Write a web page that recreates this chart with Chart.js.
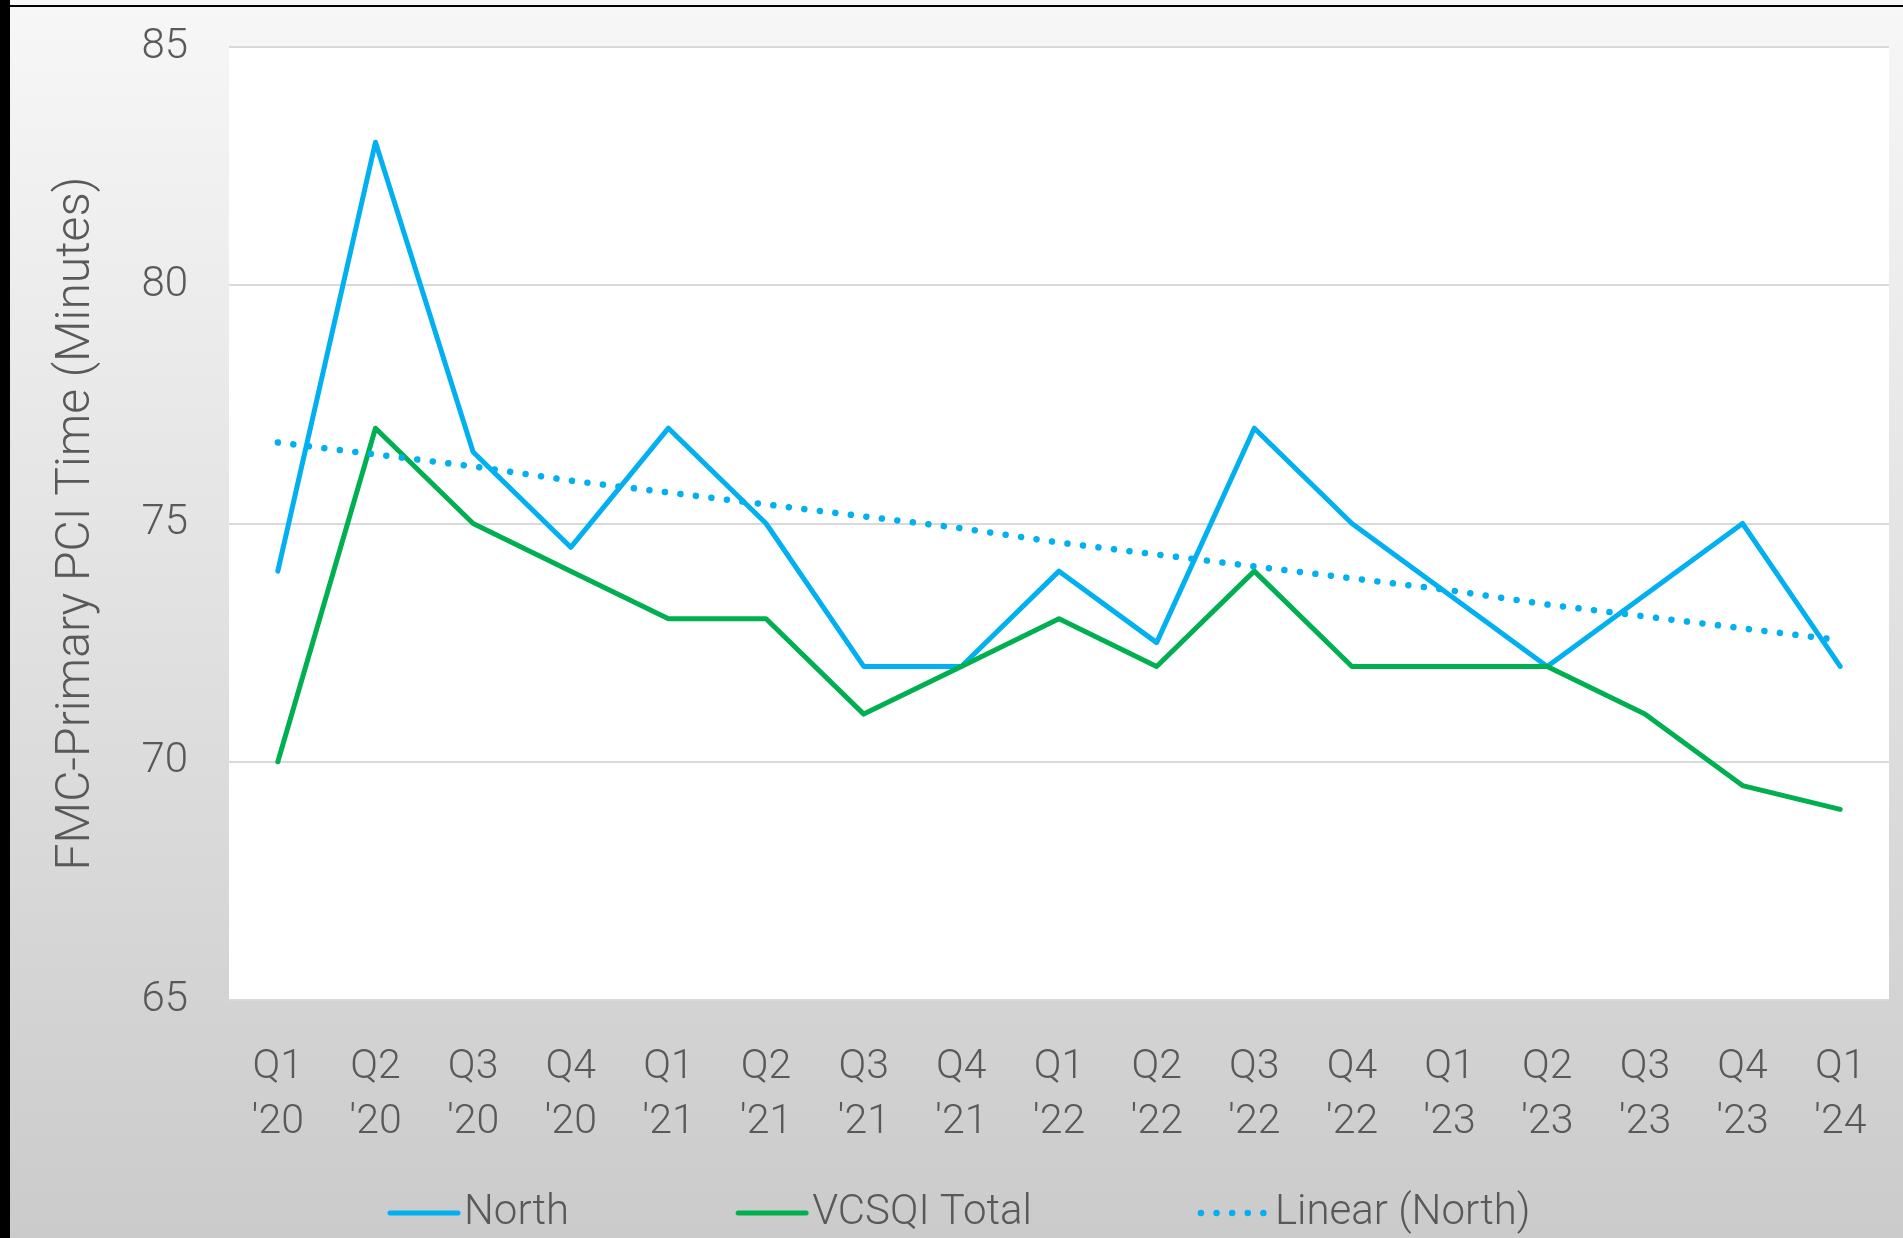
<!DOCTYPE html>
<html>
<head>
<meta charset="utf-8">
<script src="https://cdn.jsdelivr.net/npm/chart.js@4.4.1/dist/chart.umd.min.js"></script>
<style>
  html, body { margin: 0; padding: 0; overflow: hidden; }
  #wrap { position: relative; width: 1903px; height: 1238px; background: linear-gradient(#f7f7f7, #cbcbcb); }
  #chart { position: absolute; left: 0; top: 0; }
  .edge-left { position: absolute; left: 0; top: 0; width: 10px; height: 1238px; background: #000; }
  .edge-top { position: absolute; left: 10px; top: 5px; right: 0; height: 2px; background: #000; }
</style>
</head>
<body>
<div id="wrap">
  <canvas id="chart" width="1903" height="1238"></canvas>
  <div class="edge-left"></div>
  <div class="edge-top"></div>
</div>
<script>
const quarters = [
  ["Q1", "'20"], ["Q2", "'20"], ["Q3", "'20"], ["Q4", "'20"],
  ["Q1", "'21"], ["Q2", "'21"], ["Q3", "'21"], ["Q4", "'21"],
  ["Q1", "'22"], ["Q2", "'22"], ["Q3", "'22"], ["Q4", "'22"],
  ["Q1", "'23"], ["Q2", "'23"], ["Q3", "'23"], ["Q4", "'23"],
  ["Q1", "'24"]
];
const northValues = [74, 83, 76.5, 74.5, 77, 75, 72, 72, 74, 72.5, 77, 75, 73.5, 72, 73.5, 75, 72];
const vcsqiValues = [70, 77, 75, 74, 73, 73, 71, 72, 73, 72, 74, 72, 72, 72, 71, 69.5, 69];
// trend line at each quarter
const northTrend = [76.7, 76.45, 76.2, 75.9, 75.65, 75.4, 75.15, 74.9, 74.6, 74.35, 74.1, 73.85, 73.6, 73.3, 73.05, 72.8, 72.55];
const yTicks = { min: 65, max: 85, step: 5 };

const BLUE = "#00b0f0";
const GREEN = "#00b050";
const TEXT = "#595959";
const FONT = "Roboto, 'Open Sans', sans-serif";

Chart.defaults.font.family = FONT;
Chart.defaults.font.weight = 300;
Chart.defaults.color = TEXT;

const plotBackground = {
  id: "plotBackground",
  beforeDraw(chart) {
    const { ctx, chartArea } = chart;
    ctx.save();
    ctx.fillStyle = "#ffffff";
    ctx.fillRect(chartArea.left, chartArea.top, chartArea.right - chartArea.left, chartArea.bottom - chartArea.top);
    ctx.restore();
  },
};

// legend drawn by hand so the gaps and the dotted sample match the original
const bottomLegend = {
  id: "bottomLegend",
  afterDraw(chart) {
    const ctx = chart.ctx;
    const y = 1213;
    let x = 388;
    ctx.save();
    ctx.font = "300 42px " + FONT;
    ctx.textBaseline = "middle";
    chart.data.datasets.forEach((ds) => {
      ctx.strokeStyle = ds.borderColor;
      ctx.lineWidth = ds.borderWidth;
      ctx.lineCap = "round";
      ctx.setLineDash(ds.borderDash || []);
      ctx.beginPath();
      ctx.moveTo(x + 2, y);
      ctx.lineTo(x + 70, y);
      ctx.stroke();
      ctx.setLineDash([]);
      ctx.fillStyle = TEXT;
      ctx.fillText(ds.label, x + 76, y);
      x += 76 + ctx.measureText(ds.label).width + 167;
    });
    ctx.restore();
  },
};

new Chart(document.getElementById("chart"), {
  type: "line",
  data: {
    labels: quarters,
    datasets: [
      {
        label: "North",
        data: northValues,
        borderColor: BLUE,
        backgroundColor: BLUE,
        borderWidth: 5,
        borderCapStyle: "round",
        borderJoinStyle: "round",
        pointRadius: 0,
        tension: 0,
        order: 2,
      },
      {
        label: "VCSQI Total",
        data: vcsqiValues,
        borderColor: GREEN,
        backgroundColor: GREEN,
        borderWidth: 5,
        borderCapStyle: "round",
        borderJoinStyle: "round",
        pointRadius: 0,
        tension: 0,
        order: 1,
      },
      {
        label: "Linear (North)",
        data: northTrend,
        borderColor: BLUE,
        backgroundColor: BLUE,
        borderWidth: 6.5,
        borderDash: [0.01, 15.6],
        borderCapStyle: "round",
        pointRadius: 0,
        tension: 0,
        order: 0,
      },
    ],
  },
  options: {
    responsive: false,
    devicePixelRatio: 1,
    animation: false,
    layout: { padding: { left: 43, right: 14, top: 47, bottom: 0 } },
    plugins: {
      tooltip: { enabled: false },
      legend: { display: false },
    },
    scales: {
      x: {
        offset: true,
        grid: { display: false },
        border: { display: false },
        ticks: {
          maxRotation: 0,
          autoSkip: false,
          padding: 32,
          color: TEXT,
          font: { size: 41, weight: 300, lineHeight: 1.34 },
        },
        afterFit(scale) {
          scale.height = 238;
        },
      },
      y: {
        min: yTicks.min,
        max: yTicks.max,
        grid: { color: "#d9d9d9", lineWidth: 2, drawTicks: true, tickLength: 21, tickColor: "rgba(0,0,0,0)" },
        border: { display: false },
        ticks: {
          stepSize: yTicks.step,
          padding: 20,
          color: TEXT,
          font: { size: 42, weight: 300 },
        },
        title: {
          display: true,
          text: "FMC-Primary PCI Time (Minutes)",
          color: TEXT,
          padding: { top: 5, bottom: 0 },
          font: { size: 48, weight: 300 },
        },
        afterFit(scale) {
          scale.width = 186;
        },
      },
    },
  },
  plugins: [plotBackground, bottomLegend],
});
</script>
</body>
</html>
